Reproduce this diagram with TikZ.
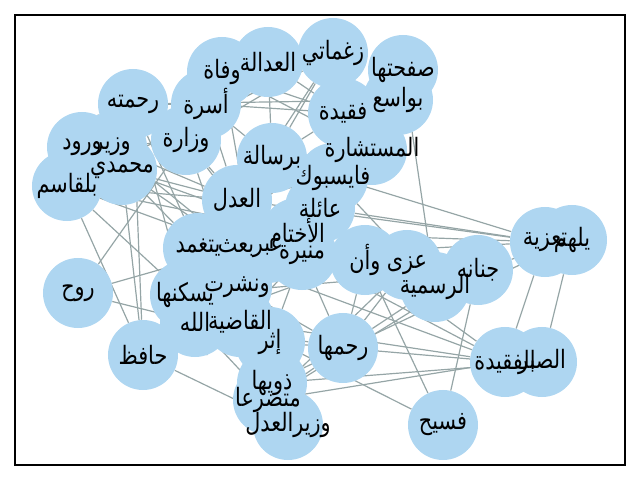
\documentclass[tikz,border=0pt]{standalone}
\usepackage{fontspec}
\newfontfamily\arabicfont[Script=Arabic, FakeStretch=0.82]{DejaVu Sans}
\TeXXeTstate=1
\usetikzlibrary{backgrounds}
\definecolor{nodeblue}{RGB}{174,214,241}
\definecolor{edgegray}{RGB}{149,165,166}
\newcommand{\artext}[1]{{\arabicfont\beginR #1\endR}}
\begin{document}
\begin{tikzpicture}[x=0.025cm, y=-0.025cm,
    vertex/.style={circle, fill=nodeblue, draw=none, minimum size=1.75cm, inner sep=0pt},
    wordlabel/.style={font=\fontsize{18}{18}\selectfont, inner sep=0pt, text=black},
    edge/.style={draw=edgegray, line width=0.85pt}
]
\useasboundingbox (0,0) rectangle (640,480);
\draw[line width=0.8pt] (15,15) rectangle (625,465);

% word nodes
\node[vertex] (zagh) at (333,53) {};
\node[vertex] (adala) at (268,62) {};
\node[vertex] (wafat) at (222,72) {};
\node[vertex] (safha) at (403,70) {};
\node[vertex] (rahmatuh) at (133,104) {};
\node[vertex] (usra) at (206,104) {};
\node[vertex] (bwasi) at (398,100) {};
\node[vertex] (faqida) at (343,113) {};
\node[vertex] (wizara) at (186,140) {};
\node[vertex] (wazir) at (112,147) {};
\node[vertex] (wurud) at (82,147) {};
\node[vertex] (muhammadi) at (122,170) {};
\node[vertex] (belqasem) at (67,186) {};
\node[vertex] (mustashara) at (372,150) {};
\node[vertex] (birisala) at (272,158) {};
\node[vertex] (facebook) at (333,178) {};
\node[vertex] (adl) at (237,200) {};
\node[vertex] (aila) at (320,208) {};
\node[vertex] (akhtam) at (297,233) {};
\node[vertex] (munira) at (302,255) {};
\node[vertex] (abr) at (268,248) {};
\node[vertex] (bath) at (236,248) {};
\node[vertex] (yataghammad) at (198,248) {};
\node[vertex] (aza) at (407,265) {};
\node[vertex] (waan) at (365,260) {};
\node[vertex] (rasmiya) at (435,287) {};
\node[vertex] (jananuh) at (478,270) {};
\node[vertex] (taziya) at (545,242) {};
\node[vertex] (yulhim) at (572,240) {};
\node[vertex] (ruh) at (78,293) {};
\node[vertex] (yuskinuha) at (185,295) {};
\node[vertex] (nasharat) at (237,287) {};
\node[vertex] (qadiya) at (240,322) {};
\node[vertex] (allah) at (195,322) {};
\node[vertex] (ithr) at (270,342) {};
\node[vertex] (rahimaha) at (343,348) {};
\node[vertex] (hafiz) at (143,355) {};
\node[vertex] (faqidaa) at (505,362) {};
\node[vertex] (sabr) at (542,362) {};
\node[vertex] (fasih) at (443,425) {};
\node[vertex] (dhawiha) at (272,383) {};
\node[vertex] (mutadarri) at (268,400) {};
\node[vertex] (waziradl) at (288,425) {};

% co-occurrence edges
\begin{scope}[on background layer]
\foreach \a/\b in {taziya/birisala, taziya/adl, taziya/aila, taziya/akhtam, taziya/munira, taziya/faqidaa,
    yulhim/sabr, yulhim/jananuh, yulhim/dhawiha, jananuh/fasih, jananuh/yuskinuha, jananuh/mutadarri,
    waan/faqidaa, rahimaha/faqidaa, mutadarri/faqidaa, munira/faqidaa, qadiya/faqidaa, dhawiha/sabr,
    sabr/faqidaa, fasih/waan, yuskinuha/fasih, safha/rasmiya, rasmiya/facebook, rasmiya/aza,
    rasmiya/rahimaha, hafiz/waziradl, belqasem/hafiz, hafiz/rahmatuh, hafiz/adl, hafiz/akhtam,
    hafiz/yuskinuha, hafiz/allah, hafiz/muhammadi, rahimaha/nasharat, rahimaha/allah, rahimaha/ithr,
    rahimaha/mutadarri, rahimaha/munira, rahimaha/aza, rahimaha/waan, allah/mutadarri, allah/qadiya,
    allah/yuskinuha, allah/ruh, allah/yataghammad, allah/waan, belqasem/yuskinuha, belqasem/akhtam,
    belqasem/muhammadi, belqasem/adl, belqasem/zagh, belqasem/bath, belqasem/wurud, ruh/wizara,
    ruh/bath, zagh/adl, zagh/birisala, zagh/adala, zagh/usra, zagh/wizara, zagh/faqida,
    rahmatuh/usra, rahmatuh/wizara, rahmatuh/bwasi, rahmatuh/yuskinuha, rahmatuh/yataghammad,
    usra/adala, usra/wafat, usra/faqida, usra/adl, usra/birisala, usra/wurud, wafat/adala,
    wafat/ithr, wafat/mustashara, wafat/faqida, adala/faqida, adala/birisala, adala/wizara,
    wizara/adl, wizara/nasharat, wizara/abr, wizara/muhammadi, wizara/wazir, wazir/adl, wazir/bath,
    wazir/wurud, wazir/muhammadi, wurud/muhammadi, muhammadi/adl, muhammadi/bath,
    muhammadi/yataghammad, muhammadi/akhtam, adl/abr, adl/birisala, adl/bath, adl/facebook,
    birisala/aila, birisala/facebook, birisala/faqida, birisala/mustashara, faqida/mustashara,
    faqida/bwasi, faqida/facebook, bwasi/yataghammad, bwasi/mustashara, bwasi/safha, safha/abr,
    safha/facebook, safha/mustashara, mustashara/aila, mustashara/munira, aila/akhtam, aila/munira,
    aila/facebook, akhtam/munira, akhtam/bath, munira/qadiya, munira/ithr, munira/waan, aza/waan,
    aza/jananuh, aza/mutadarri, waan/akhtam, ithr/qadiya, ithr/nasharat, ithr/dhawiha,
    dhawiha/mutadarri, dhawiha/waziradl, mutadarri/waziradl, nasharat/abr, nasharat/qadiya,
    yataghammad/faqidaa}
  \draw[edge] (\a) -- (\b);
\end{scope}

% labels on top of all circles
\foreach \n/\t in {zagh/زغماتي, adala/العدالة, wafat/وفاة, safha/صفحتها, rahmatuh/رحمته, usra/أسرة,
    bwasi/بواسع, faqida/فقيدة, wizara/وزارة, wazir/وزير, wurud/ورود, muhammadi/محمدي,
    belqasem/بلقاسم, mustashara/المستشارة, birisala/برسالة, facebook/فايسبوك, adl/العدل,
    aila/عائلة, akhtam/الأختام, munira/منيرة, abr/عبر, bath/بعث, yataghammad/يتغمد, aza/عزى,
    waan/وأن, rasmiya/الرسمية, jananuh/جنانه, taziya/تعزية, yulhim/يلهم, ruh/روح,
    yuskinuha/يسكنها, nasharat/ونشرت, qadiya/القاضية, allah/الله, ithr/إثر, rahimaha/رحمها,
    hafiz/حافظ, faqidaa/الفقيدة, sabr/الصبر, fasih/فسيح, dhawiha/ذويها, mutadarri/متضرعا,
    waziradl/وزيرالعدل}
  \node[wordlabel] (\n-l) at (\n) {\artext{\t}};
\end{tikzpicture}
\end{document}
